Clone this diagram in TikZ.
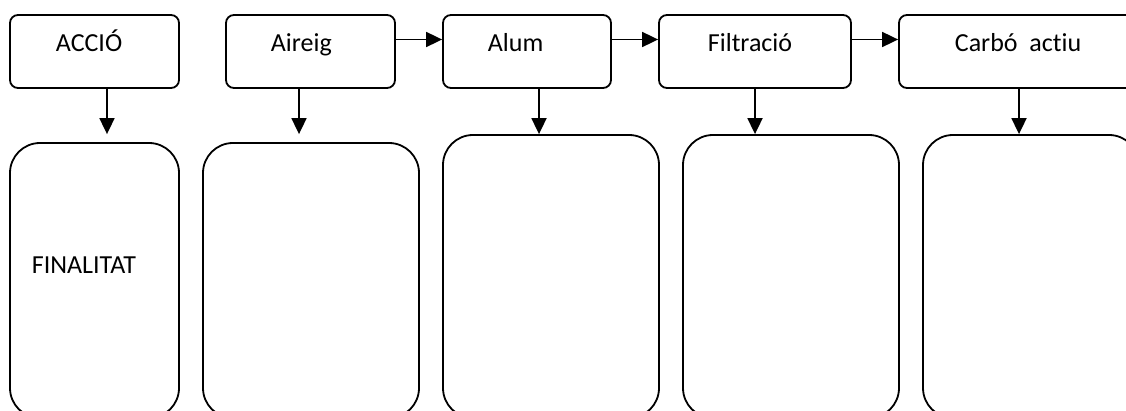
\documentclass[tikz,border=0pt]{standalone}
\usepackage{fontspec}
\setmainfont{Carlito}[Ligatures=NoCommon]
\usepackage{tikz}
\usetikzlibrary{positioning,arrows.meta,calc}

\begin{document}
\begin{tikzpicture}[x=1pt,y=1pt, line width=1.8pt,
        stepbox/.style={draw, rounded corners=8pt, minimum height=73pt},
        aimbox/.style={draw, rounded corners=30pt},
        lbl/.style={inner sep=0pt, anchor=base west, font=\fontsize{26}{30}\selectfont},
        arr/.style={-{Triangle[length=16pt,width=15pt]}}]
            \useasboundingbox (0,0) rectangle (1126,410);
            \clip (0,0) rectangle (1126,410);

            \node[stepbox, minimum width=169pt] (accio) at (94.5,358.5) {};
            \node[stepbox, minimum width=169pt] (aireig) at (310.5,358.5) {};
            \node[stepbox, minimum width=168pt] (alum) at (527,358.5) {};
            \node[stepbox, minimum width=192pt] (filtr) at (755,358.5) {};
            \node[stepbox, minimum width=251pt] (carbo) at (1024.5,358.5) {};

            \node[lbl] (accioT) at (55,358.3) {ACCIÓ};
            \node[lbl] (aireigT) at (270,358.3) {Aireig};
            \node[lbl] (alumT) at (487,358.3) {Alum};
            \node[lbl] (filtrT) at (707,358.3) {Filtració};
            \node[lbl] (carboT) at (954,358.3) {Carbó\ \ actiu};

            \node[aimbox, minimum width=169pt, minimum height=275pt] (fin) at (94.5,129.5) {};
            \node[aimbox, minimum width=216pt, minimum height=275pt] (fin2) at (311,129.5) {};
            \node[aimbox, minimum width=216pt, minimum height=283pt] (fin3) at (551,133.5) {};
            \node[aimbox, minimum width=216pt, minimum height=283pt] (fin4) at (791,133.5) {};
            \node[aimbox, minimum width=216pt, minimum height=283pt] (fin5) at (1031,133.5) {};

            \node[lbl] (finT) at (31,137) {FINALITAT};

            \draw[arr] ([yshift=12pt]aireig.east) -- ([yshift=12pt]alum.west);
            \draw[arr] ([yshift=12pt]alum.east) -- ([yshift=12pt]filtr.west);
            \draw[arr] ([yshift=12pt]filtr.east) -- ([yshift=12pt]carbo.west);

            \draw[arr, shorten >=8pt] ([xshift=12.5pt]accio.south) -- ([xshift=12.5pt]accio.south |- fin.north);
            \draw[arr, shorten >=8pt] ([xshift=-11.5pt]aireig.south) -- ([xshift=-11.5pt]aireig.south |- fin2.north);
            \draw[arr] ([xshift=12pt]alum.south) -- ([xshift=12pt]alum.south |- fin3.north);
            \draw[arr] (filtr.south) -- (filtr.south |- fin4.north);
            \draw[arr] ([xshift=-5.5pt]carbo.south) -- ([xshift=-5.5pt]carbo.south |- fin5.north);
        \end{tikzpicture}
\end{document}
